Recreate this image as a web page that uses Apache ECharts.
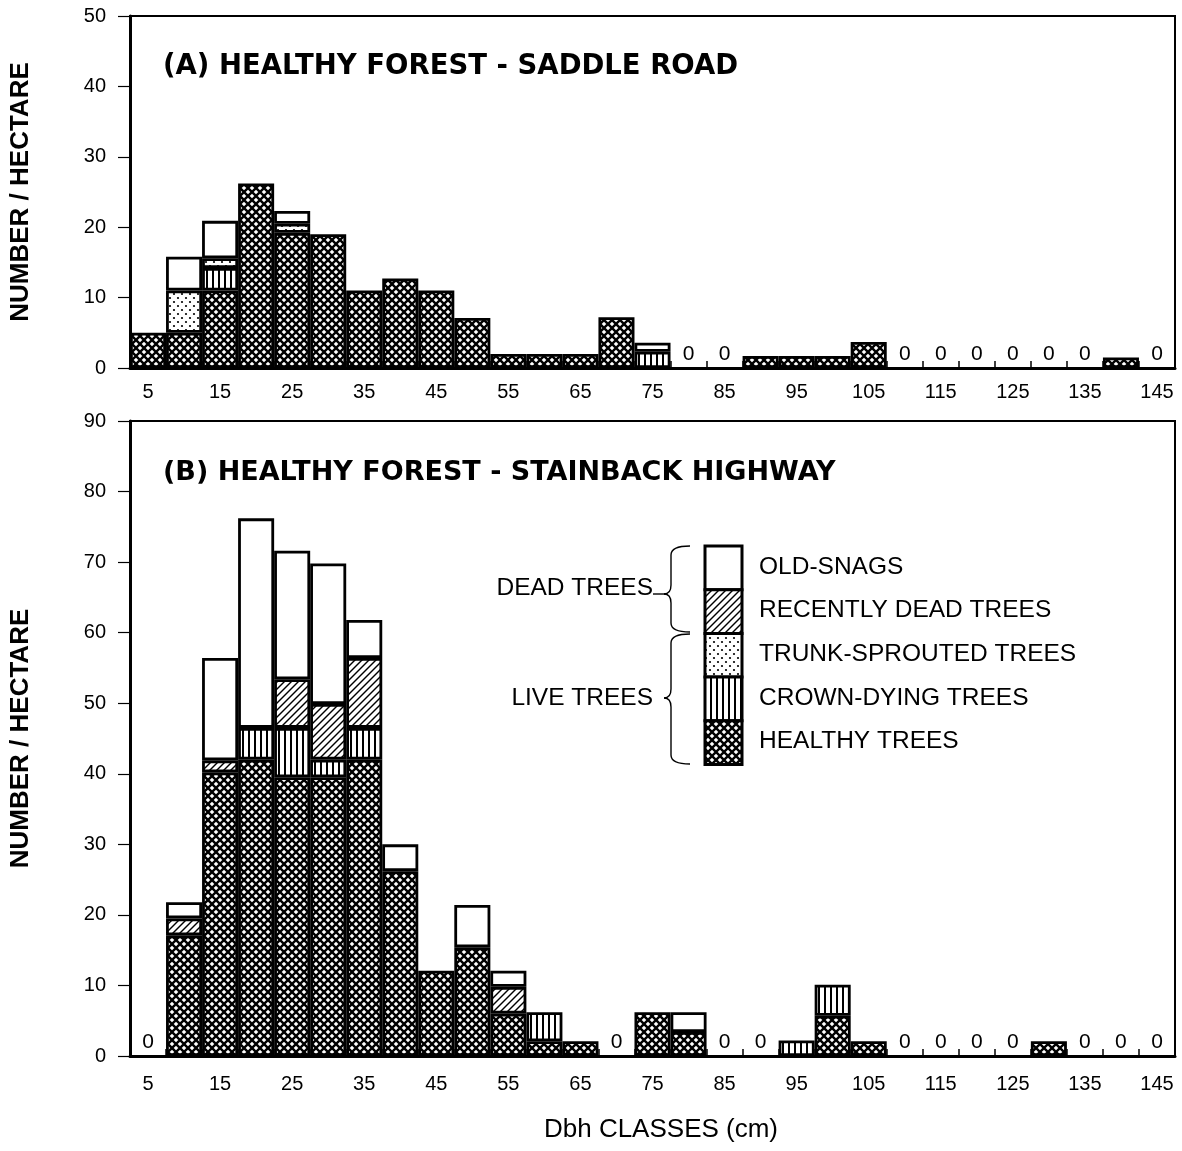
<!DOCTYPE html>
<html>
<head>
<meta charset="utf-8">
<script src="https://cdn.jsdelivr.net/npm/echarts@6/dist/echarts.min.js"></script>
<style>
  html, body { margin: 0; padding: 0; background: #fff; }
  #chart { width: 1182px; height: 1151px; }
</style>
</head>
<body>
<div id="chart"></div>
<script>
// Dbh classes (cm), one bar per 5 cm class
const classes = ['5','10','15','20','25','30','35','40','45','50','55','60','65','70','75',
                 '80','85','90','95','100','105','110','115','120','125','130','135','140','145'];

// (A) Saddle Road — trees per hectare in each condition (height of each stacked segment)
const saddleHealthy = [5, 5, 11, 26.2, 19.2, 19, 11, 12.7, 11, 7.1, 2, 2, 2, 7.2, 0, 0, 0, 1.7, 1.7, 1.7, 3.7, 0, 0, 0, 0, 0, 0, 1.5, 0];
const saddleCrown   = [0, 0, 3.2, 0, 0, 0, 0, 0, 0, 0, 0, 0, 0, 0, 2.3, 0, 0, 0, 0, 0, 0, 0, 0, 0, 0, 0, 0, 0, 0];
const saddleTrunk   = [0, 6, 1.4, 0, 1.3, 0, 0, 0, 0, 0, 0, 0, 0, 0, 0, 0, 0, 0, 0, 0, 0, 0, 0, 0, 0, 0, 0, 0, 0];
const saddleRecent  = [0, 0, 0, 0, 0, 0, 0, 0, 0, 0, 0, 0, 0, 0, 0, 0, 0, 0, 0, 0, 0, 0, 0, 0, 0, 0, 0, 0, 0];
const saddleSnags   = [0, 4.8, 5.3, 0, 1.8, 0, 0, 0, 0, 0, 0, 0, 0, 0, 1.3, 0, 0, 0, 0, 0, 0, 0, 0, 0, 0, 0, 0, 0, 0];

// (B) Stainback Highway
const stainHealthy = [0, 17.1, 40.2, 42, 39.5, 39.5, 42, 26.2, 12.1, 15.4, 6, 2.1, 2.1, 0, 6.2, 3.4, 0, 0, 0, 5.7, 2.1, 0, 0, 0, 0, 2.1, 0, 0, 0];
const stainCrown   = [0, 0, 0, 4.5, 7, 2.5, 4.5, 0, 0, 0, 0, 4.1, 0, 0, 0, 0, 0, 0, 2.2, 4.4, 0, 0, 0, 0, 0, 0, 0, 0, 0];
const stainTrunk   = [0, 0, 0, 0, 0, 0, 0, 0, 0, 0, 0, 0, 0, 0, 0, 0, 0, 0, 0, 0, 0, 0, 0, 0, 0, 0, 0, 0, 0];
const stainRecent  = [0, 2.4, 1.7, 0, 6.9, 7.9, 9.9, 0, 0, 0, 3.8, 0, 0, 0, 0, 0, 0, 0, 0, 0, 0, 0, 0, 0, 0, 0, 0, 0, 0];
const stainSnags   = [0, 2.3, 14.5, 29.7, 18.2, 19.9, 5.4, 3.8, 0, 6, 2.3, 0, 0, 0, 0, 2.8, 0, 0, 0, 0, 0, 0, 0, 0, 0, 0, 0, 0, 0];

const yTicksA = { min: 0, max: 50, step: 10 };
const yTicksB = { min: 0, max: 90, step: 10 };

const conditionNames = ['HEALTHY TREES', 'CROWN-DYING TREES', 'TRUNK-SPROUTED TREES', 'RECENTLY DEAD TREES', 'OLD-SNAGS'];

const FONT = '"Liberation Sans", Arial, Helvetica, sans-serif';
const TITLE_FONT = '"DejaVu Sans", "Liberation Sans", sans-serif';

// ---- fill patterns drawn on small tiles ----
function tile(w, h, draw) {
  const c = document.createElement('canvas');
  c.width = w; c.height = h;
  const ctx = c.getContext('2d');
  ctx.fillStyle = '#fff';
  ctx.fillRect(0, 0, w, h);
  draw(ctx, w, h);
  return { image: c, repeat: 'repeat' };
}
// dense cross-hatch: black mesh with white diamond openings
const patHealthy = tile(8, 8, (ctx) => {
  ctx.fillStyle = '#000';
  ctx.fillRect(0, 0, 8, 8);
  ctx.fillStyle = '#fff';
  const r = 2.3;
  [[0, 0], [8, 0], [0, 8], [8, 8], [4, 4]].forEach(([x, y]) => {
    ctx.beginPath();
    ctx.moveTo(x, y - r); ctx.lineTo(x + r, y); ctx.lineTo(x, y + r); ctx.lineTo(x - r, y);
    ctx.closePath(); ctx.fill();
  });
});
// vertical rules
const patCrown = tile(6, 4, (ctx) => {
  ctx.fillStyle = '#000';
  ctx.fillRect(2, 0, 2, 4);
});
// stipple
const patTrunk = tile(8, 8, (ctx) => {
  ctx.fillStyle = '#000';
  [[2, 2], [6, 6]].forEach(([x, y]) => {
    ctx.beginPath(); ctx.arc(x, y, 1.1, 0, Math.PI * 2); ctx.fill();
  });
});
// forward diagonal hatch
const patRecent = tile(7, 7, (ctx) => {
  ctx.strokeStyle = '#000';
  ctx.lineWidth = 1.4;
  [[-7, 7, 7, -7], [0, 7, 7, 0], [0, 14, 14, 0]].forEach(([a, b, c, d]) => {
    ctx.beginPath(); ctx.moveTo(a, b); ctx.lineTo(c, d); ctx.stroke();
  });
});
const patSnags = '#fff';
const patterns = [patHealthy, patCrown, patTrunk, patRecent, patSnags];

// ---- series ----
function stackSeries(gi, arrays) {
  return arrays.map((arr, k) => ({
    name: conditionNames[k],
    type: 'bar',
    xAxisIndex: gi, yAxisIndex: gi,
    stack: 'panel' + gi,
    barWidth: '100%',
    barCategoryGap: '0%',
    silent: true,
    itemStyle: { color: patterns[k], borderColor: '#000', borderWidth: 2.8 },
    data: arr.map(v => (v > 0 ? v : '-')),
    z: 3
  }));
}
// "0" printed over every empty class
function zeroMarks(gi, arrays) {
  const pts = [];
  classes.forEach((c, i) => {
    const total = arrays.reduce((s, a) => s + a[i], 0);
    if (total === 0) pts.push([i, 0]);
  });
  return {
    type: 'scatter', xAxisIndex: gi, yAxisIndex: gi,
    symbolSize: 0.01, itemStyle: { color: '#000', opacity: 1 }, silent: true,
    label: { show: true, position: 'top', distance: 3, formatter: '0',
             color: '#000', opacity: 1, fontSize: 21, fontFamily: FONT },
    data: pts, z: 4
  };
}
const saddle = [saddleHealthy, saddleCrown, saddleTrunk, saddleRecent, saddleSnags];
const stain  = [stainHealthy, stainCrown, stainTrunk, stainRecent, stainSnags];

function xAxisDef(gi, margin) {
  return {
    gridIndex: gi, type: 'category', data: classes, boundaryGap: true,
    axisLine: { lineStyle: { color: '#000', width: 3 } },
    axisTick: { show: true, interval: 0, inside: true, length: 7, lineStyle: { color: '#000', width: 1.5 } },
    axisLabel: { interval: 1, margin: margin, fontSize: 20, color: '#000', fontFamily: FONT },
    splitLine: { show: false }
  };
}
function yAxisDef(gi, t) {
  return {
    gridIndex: gi, type: 'value', min: t.min, max: t.max, interval: t.step,
    splitLine: { show: false },
    axisLine: { show: true, lineStyle: { color: '#000', width: 3 } },
    axisTick: { show: true, length: 12, lineStyle: { color: '#000', width: 1.2 } },
    axisLabel: { margin: 24, fontSize: 20, color: '#000', fontFamily: FONT },
    name: 'NUMBER / HECTARE', nameLocation: 'middle', nameRotate: 90, nameGap: 96,
    nameTextStyle: { fontSize: 26, fontWeight: 'bold', color: '#000', fontFamily: FONT }
  };
}

// ---- legend: stacked swatches with braces ----
const legendX = 705, legendW = 37, legendTop = 546, legendH = 43.7;
const legendOrder = [4, 3, 2, 1, 0];
const legendGraphics = [];
legendOrder.forEach((k, j) => {
  legendGraphics.push({
    type: 'rect', silent: true,
    shape: { x: legendX, y: legendTop + j * legendH, width: legendW, height: legendH },
    style: { fill: patterns[k], stroke: '#000', lineWidth: 3 }
  });
  legendGraphics.push({
    type: 'text', silent: true, x: 759, y: legendTop + j * legendH + legendH / 2 - 1,
    style: { text: conditionNames[k], fill: '#000', font: '24.5px ' + FONT, verticalAlign: 'middle' }
  });
});
// left-facing curly brace built from lines and quadratic curves
function brace(y1, ym, y2) {
  const x0 = 690, xv = 671, xp = 664, r = 9;
  const st = { fill: null, stroke: '#000', lineWidth: 1.4 };
  const curve = (x1, yA, cx, cy, x2, yB) => ({
    type: 'bezierCurve', silent: true,
    shape: { x1: x1, y1: yA, cpx1: cx, cpy1: cy, x2: x2, y2: yB }, style: st
  });
  const line = (x1, yA, x2, yB) => ({
    type: 'line', silent: true, shape: { x1: x1, y1: yA, x2: x2, y2: yB }, style: st
  });
  return [
    curve(x0, y1, xv, y1, xv, y1 + r),
    line(xv, y1 + r, xv, ym - r),
    curve(xv, ym - r, xv, ym, xp, ym),
    curve(xp, ym, xv, ym, xv, ym + r),
    line(xv, ym + r, xv, y2 - r),
    curve(xv, y2 - r, xv, y2, x0, y2)
  ];
}
legendGraphics.push.apply(legendGraphics, brace(546, 594, 632));
legendGraphics.push.apply(legendGraphics, brace(634, 698, 764));
legendGraphics.push(
  { type: 'line', silent: true, shape: { x1: 653, y1: 594, x2: 665, y2: 594 },
    style: { stroke: '#000', lineWidth: 1.4 } },
  { type: 'text', silent: true, x: 653, y: 588,
    style: { text: 'DEAD TREES', fill: '#000', font: '24.5px ' + FONT, align: 'right', verticalAlign: 'middle' } },
  { type: 'text', silent: true, x: 653, y: 698,
    style: { text: 'LIVE TREES', fill: '#000', font: '24.5px ' + FONT, align: 'right', verticalAlign: 'middle' } },
  { type: 'text', silent: true, x: 163, y: 67,
    style: { text: '(A) HEALTHY FOREST - SADDLE ROAD', fill: '#000', font: 'bold 27.5px ' + TITLE_FONT, verticalAlign: 'middle' } },
  { type: 'text', silent: true, x: 163, y: 473,
    style: { text: '(B) HEALTHY FOREST - STAINBACK HIGHWAY', fill: '#000', font: 'bold 27px ' + TITLE_FONT, verticalAlign: 'middle' } },
  { type: 'text', silent: true, x: 661, y: 1130,
    style: { text: 'Dbh CLASSES (cm)', fill: '#000', font: '26px ' + FONT, align: 'center', verticalAlign: 'middle' } }
);

const option = {
  animation: false,
  backgroundColor: '#fff',
  grid: [
    { left: 128, top: 16, width: 1047, height: 352, show: true, borderColor: '#000', borderWidth: 2 },
    { left: 128, top: 421, width: 1047, height: 635, show: true, borderColor: '#000', borderWidth: 2 }
  ],
  xAxis: [xAxisDef(0, 14), xAxisDef(1, 18)],
  yAxis: [yAxisDef(0, yTicksA), yAxisDef(1, yTicksB)],
  series: [].concat(stackSeries(0, saddle), [zeroMarks(0, saddle)],
                    stackSeries(1, stain), [zeroMarks(1, stain)]),
  graphic: legendGraphics
};

const chart = echarts.init(document.getElementById('chart'), null, { renderer: 'canvas' });
chart.setOption(option);
</script>
</body>
</html>
